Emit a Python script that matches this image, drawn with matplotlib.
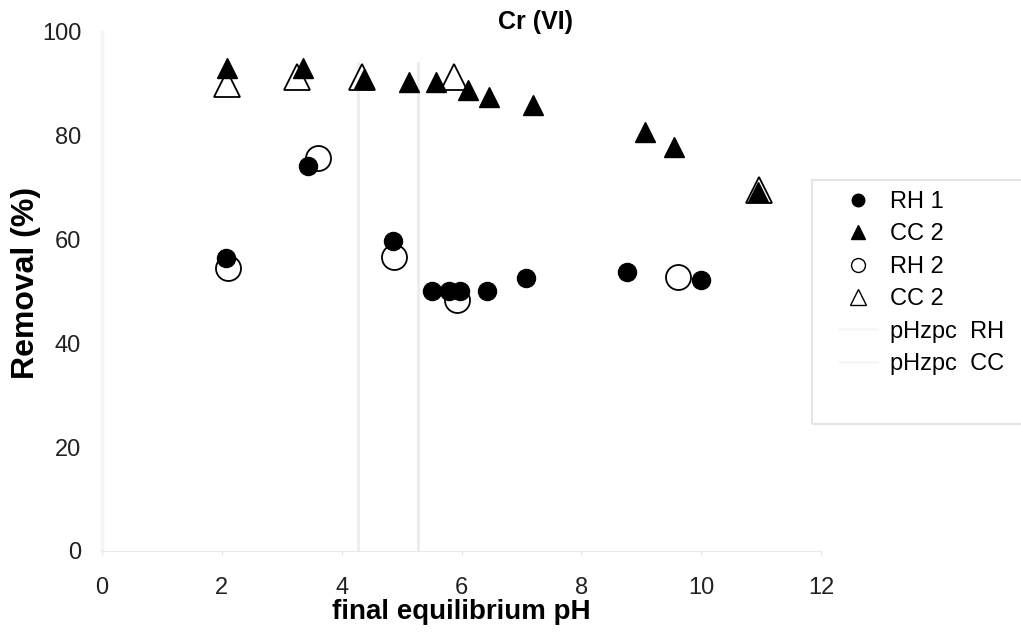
import matplotlib.pyplot as plt
from matplotlib.patches import Rectangle

plt.rcParams['font.family'] = ['Liberation Sans', 'DejaVu Sans']

# final equilibrium pH / removal (%) for each series
rh1_ph = [2.07, 3.44, 4.85, 5.51, 5.79, 5.98, 6.43, 7.07, 8.76, 9.99]
rh1_rem = [56.5, 74.2, 59.8, 50.1, 50.0, 50.0, 50.0, 52.5, 53.7, 52.3]

cc1_ph = [2.09, 3.36, 4.37, 5.12, 5.57, 6.10, 6.46, 7.19, 9.06, 9.55, 10.95]
cc1_rem = [93.0, 93.0, 91.0, 90.4, 90.4, 88.8, 87.5, 85.9, 80.8, 77.9, 69.2]

rh2_ph = [2.10, 3.61, 4.88, 5.93, 9.62]
rh2_rem = [54.5, 75.7, 56.7, 48.4, 52.7]

cc2_ph = [2.09, 3.26, 4.34, 5.87, 10.97]
cc2_rem = [89.9, 91.4, 91.4, 91.4, 69.5]

phzpc_rh = 4.28
phzpc_cc = 5.28

fig = plt.figure(figsize=(10.21, 6.34), dpi=100)
ax = fig.add_axes([0.0999, 0.131, 0.7043, 0.8186])

ax.plot(rh1_ph, rh1_rem, 'o', color='black', ms=13, label='RH 1', zorder=4)
ax.plot(cc1_ph, cc1_rem, '^', color='black', ms=14, label='CC 2', zorder=4)
ax.plot(rh2_ph, rh2_rem, 'o', mfc='white', mec='black', mew=1.3, ms=18,
        label='RH 2', zorder=3)
ax.plot(cc2_ph, cc2_rem, '^', mfc='white', mec='black', mew=1.3, ms=19,
        label='CC 2', zorder=3)
ax.axvline(phzpc_rh, ymax=0.94, color='#ececec', lw=2, label='pHzpc  RH', zorder=1)
ax.axvline(phzpc_cc, ymax=0.94, color='#ececec', lw=2, label='pHzpc  CC', zorder=1)

ax.set_xlim(0, 12)
ax.set_ylim(0, 100)
ax.set_xticks(range(0, 13, 2))
ax.set_yticks(range(0, 101, 20))
ax.tick_params(axis='x', length=3, color='#e2e2e2', pad=16, labelsize=17,
               labelcolor='#222222')
ax.tick_params(axis='y', length=0, pad=15, labelsize=17, labelcolor='#222222')
for side in ['top', 'right']:
    ax.spines[side].set_visible(False)
ax.spines['bottom'].set_color('#e8e8e8')
ax.spines['left'].set_color('#f5f5f5')
ax.spines['left'].set_linewidth(2.5)

ax.set_xlabel('final equilibrium pH', fontsize=20, fontweight='bold', labelpad=0)
ax.set_ylabel('Removal (%)', fontsize=23, fontweight='bold')
ax.yaxis.set_label_coords(-0.085, 0.516)
fig.text(0.524, 0.966, 'Cr (VI)', fontsize=18, fontweight='bold',
         ha='center', va='center')

# legend entries without their own frame; the box is drawn separately
leg = ax.legend(loc='upper left', bbox_to_anchor=(839 / 1021, 1 - 191 / 634),
                bbox_transform=fig.transFigure, fontsize=17, frameon=False,
                handlelength=1.6, handletextpad=0.55,
                labelspacing=0.44, borderpad=0, borderaxespad=0)
for h, size in zip(leg.legend_handles[:4], [9, 10, 10, 11]):
    h.set_markersize(size)
    h.set_markeredgewidth(1.0)
for h in leg.legend_handles[4:]:
    h.set_color('#f8f8f8')
fig.patches.append(Rectangle((812 / 1021, 1 - 424 / 634), 0.25, 244 / 634,
                             transform=fig.transFigure, fill=False,
                             edgecolor='#e6e6e6', lw=1.5))

fig.savefig('out.png', dpi=100)
